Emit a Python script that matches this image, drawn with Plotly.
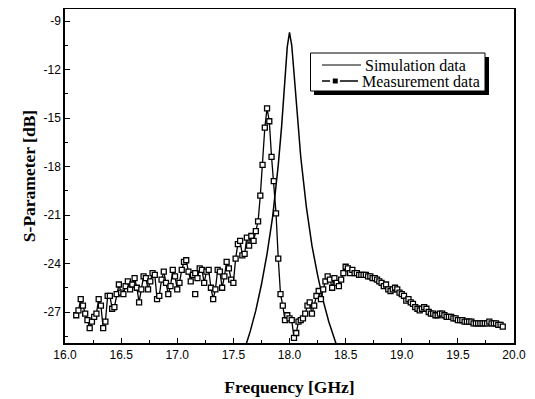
import plotly.graph_objects as go

# Simulation data (resonance around 18 GHz)
sim_freq = [17.55, 17.60, 17.65, 17.70, 17.75, 17.80, 17.85, 17.90, 17.93, 17.96, 17.98, 18.00,
            18.02, 18.04, 18.07, 18.10, 18.15, 18.20, 18.25, 18.30, 18.35, 18.40, 18.45, 18.50]
sim_db = [-30.2, -29.3, -28.2, -26.9, -25.3, -23.4, -21.1, -17.9, -15.5, -12.5, -10.6, -9.7,
          -10.5, -12.2, -15.0, -17.4, -20.5, -22.9, -24.7, -26.3, -27.6, -28.7, -29.7, -30.5]

# Measurement data, sweep 16.10 ... 19.90 GHz in 0.02 GHz steps
meas_db = [
    -27.2, -26.9, -26.2, -26.6, -27.1, -27.5, -28.0, -27.6, -27.3, -27.1,
    -26.2, -26.6, -28.0, -27.6, -26.0, -26.0, -26.8, -26.7, -25.9, -25.3,
    -25.8, -25.9, -25.4, -25.1, -25.6, -25.3, -24.9, -25.5, -26.4, -25.6,
    -24.8, -24.9, -25.6, -25.1, -24.6, -24.7, -26.2, -26.0, -25.0, -24.5,
    -25.2, -25.9, -25.4, -24.4, -24.8, -25.6, -25.2, -24.4, -23.9, -23.8,
    -24.5, -25.1, -24.7, -24.6, -24.9, -24.3, -24.4, -25.2, -24.5, -24.4,
    -25.5, -26.2, -25.6, -24.4, -24.5, -25.5, -24.8, -23.9, -24.3, -25.0,
    -25.2, -23.7, -22.8, -22.6, -23.5, -23.4, -22.4, -22.9, -22.3, -22.6,
    -22.0, -21.4, -19.8, -17.9, -15.6, -14.4, -15.2, -17.4, -18.9, -20.9,
    -23.7, -25.9, -26.6, -27.5, -27.2, -27.4, -27.5, -28.6, -28.3, -27.6,
    -27.5, -27.4, -27.1, -26.6, -26.4, -27.1, -26.6, -26.0, -25.7, -26.2,
    -25.6, -25.1, -24.8, -25.0, -25.5, -24.9, -25.2, -25.4, -25.0, -24.6,
    -24.2, -24.3, -24.6, -24.4, -24.6, -24.6, -24.7, -24.7, -24.7, -24.7,
    -24.8, -24.8, -24.9, -24.9, -25.0, -25.1, -25.2, -25.4, -25.3, -25.6,
    -25.7, -25.6, -25.5, -25.6, -25.8, -25.9, -26.0, -26.3, -26.2, -26.4,
    -26.5, -26.7, -26.8, -26.9, -26.8, -26.7, -26.8, -27.0, -27.1, -27.1,
    -27.2, -27.2, -27.1, -27.1, -27.2, -27.3, -27.3, -27.3, -27.4, -27.4,
    -27.5, -27.5, -27.5, -27.6, -27.6, -27.6, -27.6, -27.7, -27.7, -27.7,
    -27.7, -27.7, -27.7, -27.7, -27.6, -27.7, -27.7, -27.7, -27.8, -27.8,
    -27.9,
]
meas_freq = [round(16.10 + 0.02 * i, 2) for i in range(len(meas_db))]

# isolated stray measurement marker
stray_freq = [17.16]
stray_db = [-25.9]

x_ticks = [16.0, 16.5, 17.0, 17.5, 18.0, 18.5, 19.0, 19.5, 20.0]
x_labels = ["16.0", "16.5", "17.0", "17.5", "18.0", "18.5", "19.0", "19.5", "20.0"]
y_ticks = [-27, -24, -21, -18, -15, -12, -9]
y_labels = ["-27", "-24", "-21", "-18", "-15", "-12", "-9"]
series_names = ["Simulation data", "Measurement data"]

marker_style = dict(symbol="square", size=5, color="white", line=dict(color="black", width=1.3))

fig = go.Figure()
fig.add_trace(go.Scatter(x=sim_freq, y=sim_db, mode="lines", name=series_names[0],
                         line=dict(color="black", width=1.5), showlegend=False))
fig.add_trace(go.Scatter(x=meas_freq, y=meas_db, mode="lines+markers", name=series_names[1],
                         line=dict(color="black", width=1.3), marker=marker_style, showlegend=False))
fig.add_trace(go.Scatter(x=stray_freq, y=stray_db, mode="markers", showlegend=False,
                         marker=marker_style))

# Page body has an 8px default margin; screen coords -> figure coords
OFF = 8
W, H = 535 - OFF, 399 - OFF
L, R, T, B = 57, 21, 1, 56
pw, ph = W - L - R, H - T - B

def px(xs):
    return (xs - OFF - L) / pw

def py(ys):
    return (H - B - (ys - OFF)) / ph

shapes = [
    # legend shadow and box
    dict(type="rect", xref="paper", yref="paper", x0=px(314), x1=px(489), y0=py(95), y1=py(57),
         fillcolor="black", line=dict(width=0), layer="above"),
    dict(type="rect", xref="paper", yref="paper", x0=px(310.5), x1=px(485), y0=py(91), y1=py(53),
         fillcolor="white", line=dict(color="black", width=1), layer="above"),
    # legend glyphs
    dict(type="line", xref="paper", yref="paper", x0=px(322), x1=px(361), y0=py(65), y1=py(65),
         line=dict(color="black", width=1), layer="above"),
    dict(type="line", xref="paper", yref="paper", x0=px(322), x1=px(330), y0=py(81), y1=py(81),
         line=dict(color="black", width=1.5), layer="above"),
    dict(type="rect", xref="paper", yref="paper", x0=px(333), x1=px(337.5), y0=py(83.2), y1=py(78.8),
         fillcolor="black", line=dict(color="black", width=0.5), layer="above"),
    dict(type="line", xref="paper", yref="paper", x0=px(340), x1=px(358), y0=py(81), y1=py(81),
         line=dict(color="black", width=1.5), layer="above"),
]

legend_font = dict(family="Liberation Serif, Times New Roman", size=16, color="black")
annotations = [
    dict(text=series_names[0], xref="paper", yref="paper", x=px(363), y=py(65),
         xanchor="left", yanchor="middle", showarrow=False, font=legend_font),
    dict(text=series_names[1], xref="paper", yref="paper", x=px(360), y=py(81),
         xanchor="left", yanchor="middle", showarrow=False, font=legend_font),
]

tick_font = dict(family="Liberation Sans, Arial", size=12, color="black")
title_font = dict(family="Liberation Serif, Times New Roman", size=17.5, color="black")

fig.update_layout(
    width=W, height=H,
    margin=dict(l=L, r=R, t=T, b=B, autoexpand=False),
    paper_bgcolor="white", plot_bgcolor="white",
    showlegend=False,
    shapes=shapes, annotations=annotations,
    xaxis=dict(
        range=[16.0, 20.0], tickvals=x_ticks, ticktext=x_labels,
        ticks="inside", ticklen=5, tickwidth=1, tickcolor="black",
        minor=dict(dtick=0.25, ticks="inside", ticklen=3, tickcolor="black"),
        showline=True, linecolor="black", linewidth=1.5, mirror=True,
        showgrid=False, zeroline=False, tickfont=tick_font,
        title=dict(text="<b>Frequency [GHz]</b>", font=title_font, standoff=20),
    ),
    yaxis=dict(
        range=[-28.917, -8.258], tickvals=y_ticks, ticktext=y_labels,
        ticks="inside", ticklen=5, tickwidth=1, tickcolor="black",
        minor=dict(tickvals=[-28.5, -25.5, -22.5, -19.5, -16.5, -13.5, -10.5],
                   ticks="inside", ticklen=3, tickcolor="black"),
        showline=True, linecolor="black", linewidth=1.5, mirror=True,
        showgrid=False, zeroline=False, tickfont=tick_font, ticklabelstandoff=0,
        title=dict(text="<b>S-Parameter [dB]</b>", font=title_font, standoff=3),
    ),
)

fig.write_html("out.html")
